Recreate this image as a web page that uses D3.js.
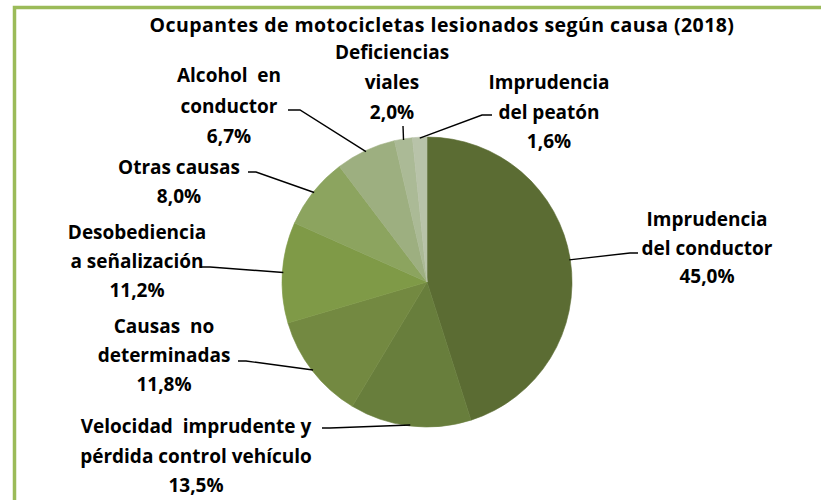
<!DOCTYPE html>
<html>
<head>
<meta charset="utf-8">
<script src="https://cdn.jsdelivr.net/npm/d3@7/dist/d3.min.js"></script>
<style>
  html, body { margin: 0; padding: 0; background: #ffffff; }
  svg { display: block; }
  text { font-family: "Open Sans", "Liberation Sans", sans-serif; font-weight: bold; fill: #000; }
</style>
</head>
<body>
<svg id="chart" width="821" height="500"></svg>
<script>
// ---------- DATA ----------
const title = "Ocupantes de motocicletas lesionados según causa (2018)";
const categories = [
  "Imprudencia del conductor",
  "Velocidad imprudente y pérdida control vehículo",
  "Causas no determinadas",
  "Desobediencia a señalización",
  "Otras causas",
  "Alcohol en conductor",
  "Deficiencias viales",
  "Imprudencia del peatón"
];
const values = [45.0, 13.5, 11.8, 11.2, 8.0, 6.7, 2.0, 1.6];
const valueLabels = ["45,0%", "13,5%", "11,8%", "11,2%", "8,0%", "6,7%", "2,0%", "1,6%"];
const labelLines = [
  ["Imprudencia", "del conductor"],
  ["Velocidad  imprudente y", "pérdida control vehículo"],
  ["Causas  no", "determinadas"],
  ["Desobediencia", "a señalización"],
  ["Otras causas"],
  ["Alcohol  en", "conductor"],
  ["Deficiencias", "viales"],
  ["Imprudencia", "del peatón"]
];
const colors = ["#5b6c33", "#687e3c", "#738941", "#7f9a47", "#8ca45f", "#9daf80", "#abba96", "#b8c3a9"];

// ---------- LAYOUT ----------
const W = 821, H = 500;
const cx = 427, cy = 282, R = 145;
// label block: [center x, first baseline, line step]
const labelLayout = [
  [707, 226, 28.5],
  [196, 433, 29.5],
  [164, 333, 29],
  [137, 239, 29],
  [179, 174, 29],
  [229, 82, 30.5],
  [392, 59, 30],
  [549, 89, 29.5]
];
// leader line label-side points (elbow then end)
const leaderEnds = [
  [[638, 253], [630, 253]],
  [[322, 428], [330, 428]],
  [[238, 361], [246, 361]],
  [[200, 267], [210, 267]],
  [[248, 172], [256, 172]],
  [[288, 110], [300, 110]],
  [[403, 126], [403, 126]],
  [[492, 115], [482, 115]]
];

const svg = d3.select("#chart");

// frame
svg.append("path")
  .attr("d", `M14.5,${H + 5} L14.5,7.5 L${W + 5},7.5`)
  .attr("fill", "none")
  .attr("stroke", "#9bbb59")
  .attr("stroke-width", 3.5);

// title
svg.append("text")
  .attr("x", 442).attr("y", 32)
  .attr("text-anchor", "middle")
  .style("font-size", "19.5px")
  .style("letter-spacing", "0.45px")
  .text(title);

// pie
const pie = d3.pie().value(d => d).sort(null).startAngle(0).endAngle(2 * Math.PI);
const arcs = pie(values);
const arc = d3.arc().innerRadius(0).outerRadius(R);
const edge = d3.arc().innerRadius(R - 1).outerRadius(R - 1);

const g = svg.append("g").attr("transform", `translate(${cx},${cy})`);
g.selectAll("path.slice")
  .data(arcs)
  .join("path")
  .attr("class", "slice")
  .attr("d", arc)
  .attr("fill", (d, i) => colors[i])
  .attr("stroke", (d, i) => colors[i])
  .attr("stroke-width", 0.6);

// leader lines
arcs.forEach((d, i) => {
  const [ex, ey] = edge.centroid(d);
  const start = [cx + ex, cy + ey];
  const [a, b] = leaderEnds[i];
  const pts = [a, b, start];
  svg.append("path")
    .attr("d", d3.line()(pts))
    .attr("fill", "none")
    .attr("stroke", "#000")
    .attr("stroke-width", 1.4);
});

// labels
labelLines.forEach((lines, i) => {
  const [x, y0, step] = labelLayout[i];
  const all = lines.concat([valueLabels[i]]);
  const t = svg.append("text")
    .attr("text-anchor", "middle")
    .style("font-size", "19px");
  all.forEach((ln, j) => {
    t.append("tspan")
      .attr("x", x)
      .attr("y", y0 + j * step)
      .attr("xml:space", "preserve")
      .style("white-space", "pre")
      .text(ln);
  });
});
</script>
</body>
</html>
